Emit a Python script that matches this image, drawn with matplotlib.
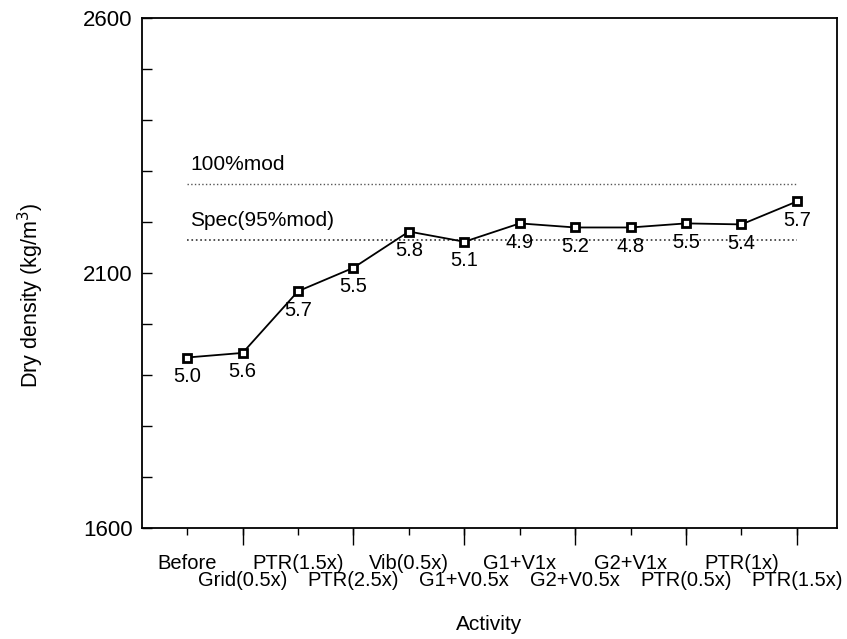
import matplotlib
matplotlib.use("Agg")
import matplotlib.pyplot as plt

plt.rcParams['font.family'] = ['Liberation Sans', 'DejaVu Sans']

# Data
activities = ['Before', 'Grid(0.5x)', 'PTR(1.5x)', 'PTR(2.5x)', 'Vib(0.5x)',
              'G1+V0.5x', 'G1+V1x', 'G2+V0.5x', 'G2+V1x', 'PTR(0.5x)',
              'PTR(1x)', 'PTR(1.5x)']
dry_density = [1934, 1943, 2064, 2110, 2181, 2161, 2197, 2189, 2189, 2197, 2195, 2240]
moisture = ['5.0', '5.6', '5.7', '5.5', '5.8', '5.1', '4.9', '5.2', '4.8', '5.5', '5.4', '5.7']
mod_100 = 2275
spec_95 = 2165

x = list(range(len(activities)))

fig = plt.figure(figsize=(8.47, 6.39), dpi=100)
ax = fig.add_axes([0.168, 0.174, 0.82, 0.798])

# reference lines
ax.plot([x[0], x[-1]], [mod_100, mod_100], color='#555555', linestyle=':', linewidth=1.0)
ax.plot([x[0], x[-1]], [spec_95, spec_95], color='#333333', linestyle=':', linewidth=1.2)
ax.text(x[0] + 0.05, mod_100 + 26, '100%mod', fontsize=15, va='baseline')
ax.text(x[0] + 0.05, spec_95 + 26, 'Spec(95%mod)', fontsize=15, va='baseline')

# measured density
ax.plot(x, dry_density, color='black', linewidth=1.3, marker='s', markersize=6,
        markerfacecolor='white', markeredgecolor='black', markeredgewidth=2)
for xi, yi, lab in zip(x, dry_density, moisture):
    ax.annotate(lab, (xi, yi), xytext=(0, -19), textcoords='offset pixels',
                ha='center', va='center', fontsize=14.5)

ax.set_xlim(-0.81, 11.72)
ax.set_ylim(1600, 2600)

# y axis: labelled every 500, ticks every 100, pointing in
ax.set_yticks([1600, 2100, 2600])
ax.set_yticks(range(1600, 2601, 100), minor=True)
ax.tick_params(axis='y', which='both', direction='in', length=7, width=1, labelsize=16, pad=7)

# x axis: two staggered rows of labels, long ticks for the lower row
ax.set_xticks(x)
ax.set_xticklabels(activities, fontsize=14.5)
ax.tick_params(axis='x', which='major', direction='out', length=5, width=1, pad=14)
for t in ax.xaxis.get_major_ticks()[1::2]:
    t.set_pad(26)
ax.xaxis.remove_overlapping_locs = False
ax.set_xticks(x[1::2], minor=True)
ax.tick_params(axis='x', which='minor', direction='out', length=12.5, width=1)

for sp in ax.spines.values():
    sp.set_linewidth(1.3)

fig.text(0.036, 0.538, 'Dry density (kg/m$^3$)', rotation=90, ha='center', va='center', fontsize=15.5)
fig.text(0.578, 0.022, 'Activity', ha='center', va='center', fontsize=15)

fig.savefig('out.png', dpi=100)
